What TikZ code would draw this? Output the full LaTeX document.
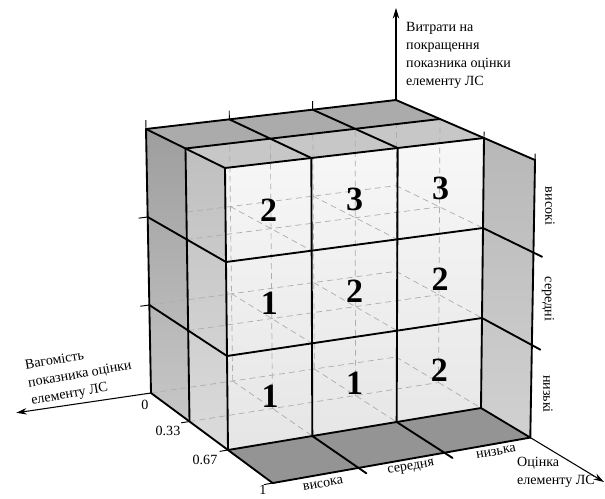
\documentclass[tikz,border=0pt]{standalone}
\usepackage{fontspec}
\setmainfont{Liberation Serif}
\usetikzlibrary{arrows.meta, calc}

% grid point of the box: name, column, depth, level
\newcommand\boxpt[4]{%
  \pgfmathsetmacro\bxS{(#2)/3}%
  \pgfmathsetmacro\bxT{(#3)/2+0.04*(#3)*((#3)-1)*((#3)-2)/3}%
  \pgfmathsetmacro\bxR{(#4)/3}%
  \pgfmathsetmacro\bxU{(1-\bxR)*((1-\bxS)*(1-\bxT)*151+\bxS*(1-\bxT)*396+(1-\bxS)*\bxT*228+\bxS*\bxT*481)+\bxR*((1-\bxS)*(1-\bxT)*146+\bxS*(1-\bxT)*396+(1-\bxS)*\bxT*225+\bxS*\bxT*484)}%
  \pgfmathsetmacro\bxV{(1-\bxR)*((1-\bxS)*(1-\bxT)*393+\bxS*(1-\bxT)*357+(1-\bxS)*\bxT*450+\bxS*\bxT*408)+\bxR*((1-\bxS)*(1-\bxT)*129+\bxS*(1-\bxT)*100+(1-\bxS)*\bxT*168+\bxS*\bxT*138)}%
  \coordinate (#1) at (\bxU,\bxV);%
}

\begin{document}
\begin{tikzpicture}[x=0.03cm, y=-0.03cm, >={Stealth[length=9pt,width=5.5pt]},
    edge/.style={line width=1.6pt, line cap=round},
    tick/.style={line width=0.8pt},
    hid/.style={draw=black!32, line width=0.6pt, dash pattern=on 5pt off 3.5pt},
    axis/.style={line width=0.9pt},
    num/.style={font=\fontsize{29}{32}\selectfont\bfseries},
    lbl/.style={font=\fontsize{12}{15.3}\selectfont, inner sep=0pt}]
    \useasboundingbox (0,0) rectangle (605,499);

    % points of the grid
    \foreach \i in {0,...,3}{\foreach \j in {0,...,3}{\foreach \k in {0,...,3}{
        \boxpt{p\i\j\k}{\i}{\j}{\k}}}}
    \foreach \i in {0,1,2}{\boxpt{up\i}{\i}{0}{3.1}}
    \boxpt{upF}{3}{2}{3.07}
    \boxpt{upG}{3}{3}{3.07}
    \foreach \k in {1,2}{\boxpt{lt\k}{-0.11}{0}{\k}}
    \foreach \j in {1,2,3}{\boxpt{bt\j}{-0.1}{\j}{0}}
    \foreach \i in {1,2}{\boxpt{fe\i}{\i}{3.15}{0}}
    \foreach \k in {1,2}{\boxpt{re\k}{3}{3.15}{\k}}
    \boxpt{wtip}{-1.65}{0}{0}
    \coordinate (vtip) at ($(p303)+(0,-92)$);
    \coordinate (otip) at (604,482);

    % faces
    \fill[top color=black!38, bottom color=black!22] (p000)--(p010)--(p013)--(p003)--cycle;
    \fill[top color=black!25, bottom color=black!14] (p010)--(p020)--(p023)--(p013)--cycle;
    \fill[black!33] (p003)--(p303)--(p313)--(p013)--cycle;
    \fill[black!22] (p013)--(p313)--(p323)--(p023)--cycle;
    \fill[top color=black!3, bottom color=black!10] (p020)--(p320)--(p323)--(p023)--cycle;
    \fill[top color=black!28, bottom color=black!18] (p320)--(p330)--(p333)--(p323)--cycle;
    \fill[black!42] (p020)--(p320)--(p330)--(p030)--cycle;

    % hidden lines
    \foreach \j in {0,1}{\foreach \k in {0,1,2}{\draw[hid] (p0\j\k)--(p3\j\k);}}
    \foreach \i in {1,2,3}{\foreach \j in {0,1}{\draw[hid] (p\i\j0)--(p\i\j3);}}
    \foreach \i in {1,2,3}{\foreach \k in {0,1,2}{\draw[hid] (p\i0\k)--(p\i2\k);}}

    % front face
    \foreach \k in {0,...,3}{\draw[edge] (p02\k)--(p32\k);}
    \foreach \i in {0,...,3}{\draw[edge] (p\i20)--(p\i23);}
    % top face
    \foreach \j in {0,1}{\draw[edge] (p0\j3)--(p3\j3);}
    \foreach \i in {0,...,3}{\draw[edge] (p\i03)--(p\i23);}
    % left wall
    \foreach \j in {0,1}{\draw[edge] (p0\j0)--(p0\j3);}
    \foreach \k in {1,2}{\draw[edge] (p00\k)--(p02\k); \draw[tick] (lt\k)--(p00\k);}
    \draw[edge] (p000)--(p030);
    \foreach \j in {1,2,3}{\draw[tick] (bt\j)--(p0\j0);}
    \foreach \i in {0,1,2}{\draw[tick] (p\i03)--(up\i);}
    % floor and right panel
    \draw[edge] (p030)--(p330);
    \foreach \i in {1,2}{\draw[edge] (p\i20)--(fe\i);}
    \draw[edge] (p320)--(p330);
    \draw[edge] (p330)--(p333)--(p323);
    \foreach \k in {1,2}{\draw[edge] (p32\k)--(re\k);}
    \draw[tick] (p323)--(upF);
    \draw[tick] (p333)--(upG);
    % axes
    \draw[axis,->] (p303)--(vtip);
    \draw[axis,->] (p000)--(wtip);
    \draw[axis,->] (p330)--(otip);

    % marks in the cells
    \foreach \i/\k/\n in {0/2/2, 1/2/3, 2/2/3, 0/1/1, 1/1/2, 2/1/2, 0/0/1, 1/0/1, 2/0/2}{
        \pgfmathtruncatemacro\ii{\i+1}
        \pgfmathtruncatemacro\kk{\k+1}
        \node[num] (n\i\k) at ($(p\i2\k)!0.5!(p\ii2\kk)$) {\n};
    }

    % labels
    \node[lbl, anchor=north west, align=left] (vlabel) at (406,22)
        {Витрати на\\покращення\\показника оцінки\\елементу ЛС};
    \node[lbl, align=left, rotate=10] (wlabel) at (80,375)
        {Вагомість\\показника оцінки\\елементу ЛС};
    \node[lbl, anchor=west, align=left] (olabel) at (517,472)
        {Оцінка\\елементу ЛС};
    \node[lbl] (w0) at (145,405) {0};
    \node[lbl] (w1) at (168,431) {0.33};
    \node[lbl] (w2) at (205,460) {0.67};
    \node[lbl] (w3) at (263,490) {1};
    \node[lbl, rotate=10] (o1) at (323,484) {висока};
    \node[lbl, rotate=10] (o2) at (411,468) {середня};
    \node[lbl, rotate=10] (o3) at (496,452) {низька};
    \node[lbl, rotate=-90] (v3) at (550,206) {високі};
    \node[lbl, rotate=-90] (v2) at (548,299) {середні};
    \node[lbl, rotate=-90] (v1) at (548,394) {низькі};
\end{tikzpicture}
\end{document}
